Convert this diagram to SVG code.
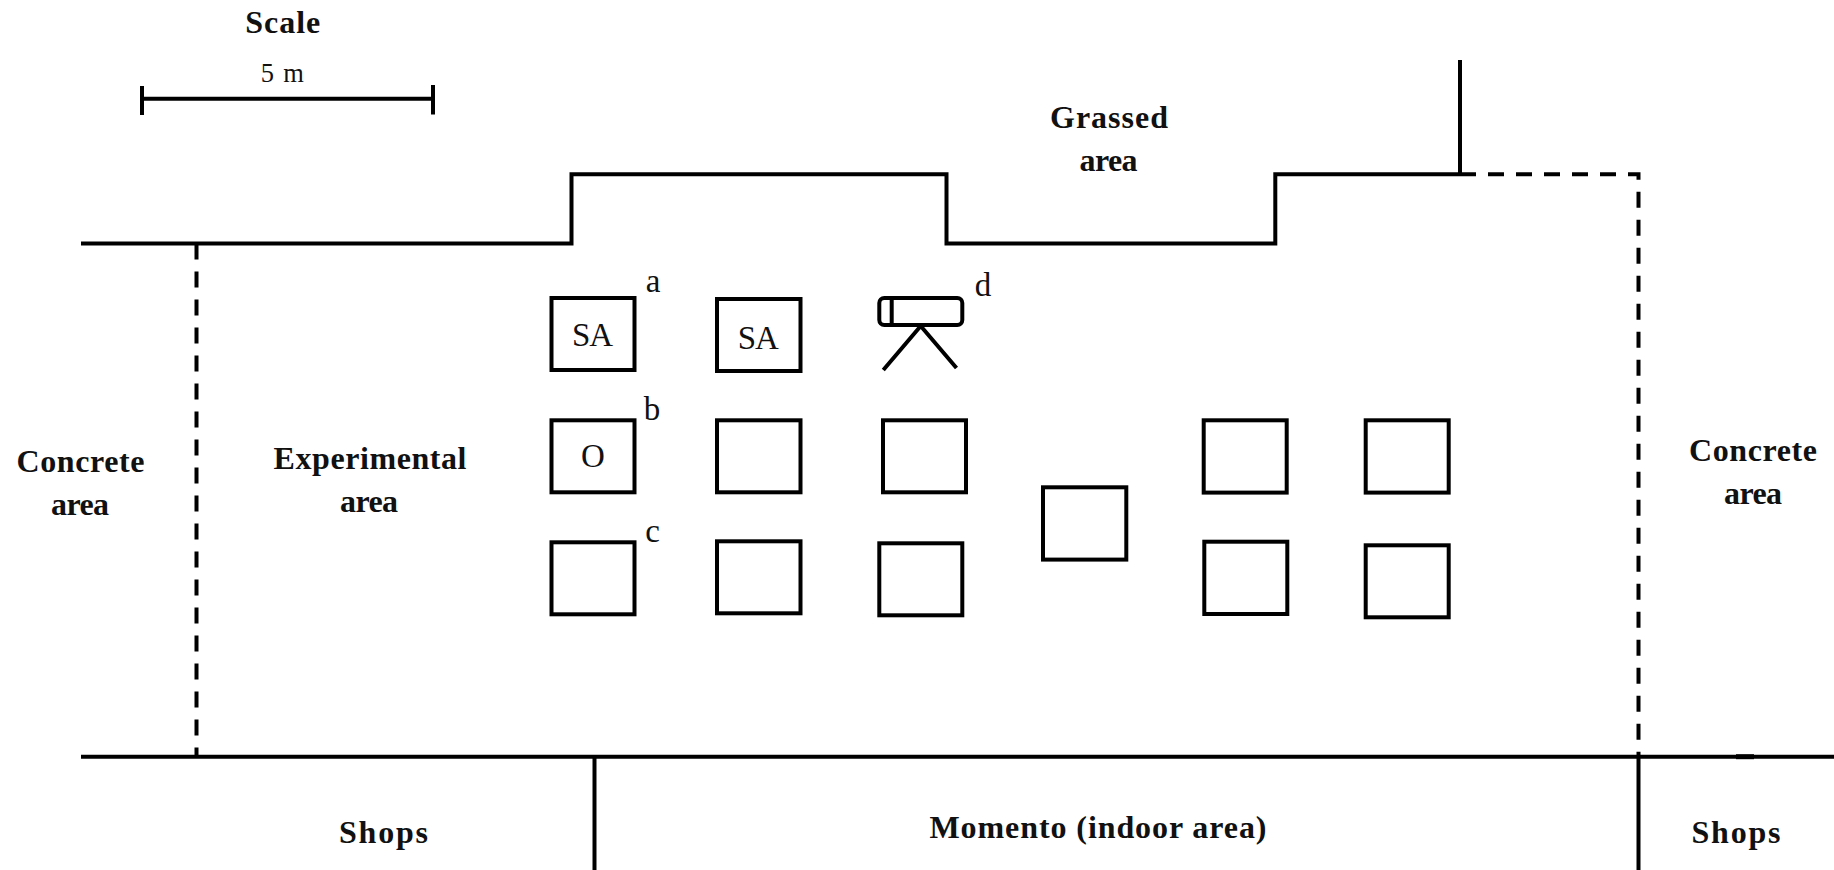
<svg xmlns="http://www.w3.org/2000/svg" width="1834" height="870" viewBox="0 0 1834 870">
<style>
text{font-family:"Liberation Serif","DejaVu Serif",serif;fill:#111}
.b{font-weight:700;font-size:32px;text-anchor:middle}
.r{font-size:33px;text-anchor:middle}
.l{fill:none;stroke:#000;stroke-width:4}
.d{stroke-dasharray:16 12}
.box{fill:none;stroke:#000;stroke-width:4}
</style>
<rect width="1834" height="870" fill="#fff"/>
<g id="connectors">
<path class="l" d="M81 243.500H571.500V174.300H946.500V243.500H1275.300V174.300H1460"/>
<path class="l" d="M1460 60V174"/>
<path class="l d" d="M1460 174.300H1638.500V756"/>
<path class="l d" d="M196.500 243.500V756"/>
<path class="l" d="M81 756.700H1834"/>
<path class="l" style="stroke-width:5" d="M1736 756.700H1754"/>
<path class="l" d="M594.500 757V870"/>
<path class="l" d="M1638.500 757V870"/>
<path class="l" d="M142 98.700H433M433 85V114.500M142 86V115"/>
</g>
<g id="sa1"><rect class="box" x="551.500" y="298" width="83" height="72"/><text class="r" x="592.500" y="346" textLength="41">SA</text></g>
<g id="sa2"><rect class="box" x="717" y="299" width="83.500" height="72"/><text class="r" x="758.300" y="348.500" textLength="41">SA</text></g>
<g id="camera"><rect class="box" x="879.300" y="298" width="83" height="27" rx="5"/><path class="l" d="M891.700 298V325M920.700 326L883.300 370M920.700 326L956.500 368"/></g>
<g id="o"><rect class="box" x="551.500" y="420.300" width="83" height="72"/><text class="r" x="593" y="467.300" textLength="25">O</text></g>
<g id="b2"><rect class="box" x="717" y="420.300" width="83.500" height="72"/></g>
<g id="b3"><rect class="box" x="883" y="420.300" width="83" height="72"/></g>
<g id="c1"><rect class="box" x="551.500" y="542.300" width="83" height="72"/></g>
<g id="c2"><rect class="box" x="717" y="541.300" width="83.500" height="72"/></g>
<g id="c3"><rect class="box" x="879.300" y="543.300" width="83" height="72"/></g>
<g id="center"><rect class="box" x="1043" y="487.300" width="83.300" height="72.300"/></g>
<g id="r1"><rect class="box" x="1203.700" y="420.300" width="83" height="72.300"/></g>
<g id="r2"><rect class="box" x="1365.700" y="420.300" width="83" height="72.300"/></g>
<g id="r3"><rect class="box" x="1204.300" y="541.700" width="83" height="72.300"/></g>
<g id="r4"><rect class="box" x="1365.700" y="545.300" width="83" height="72"/></g>
<text class="b" x="282.800" y="32.500" textLength="75">Scale</text>
<text class="r" x="282.300" y="81.500" style="font-size:26.500px" textLength="43">5 m</text>
<text class="b" x="1109" y="127.700" textLength="118">Grassed</text>
<text class="b" x="1108.500" y="171" textLength="58">area</text>
<text class="b" x="80.500" y="471.700" textLength="128">Concrete</text>
<text class="b" x="80" y="515" textLength="58">area</text>
<text class="b" x="370" y="469" textLength="193">Experimental</text>
<text class="b" x="369" y="511.700" textLength="58">area</text>
<text class="b" x="1753" y="460.700" textLength="128">Concrete</text>
<text class="b" x="1753" y="504" textLength="58">area</text>
<text class="b" x="383.500" y="842.700" textLength="89">Shops</text>
<text class="b" x="1098" y="838" textLength="337">Momento (indoor area)</text>
<text class="b" x="1736" y="842.700" textLength="89">Shops</text>
<text class="r" x="653" y="292">a</text>
<text class="r" x="652" y="420">b</text>
<text class="r" x="652.500" y="542">c</text>
<text class="r" x="983" y="296">d</text>
</svg>
